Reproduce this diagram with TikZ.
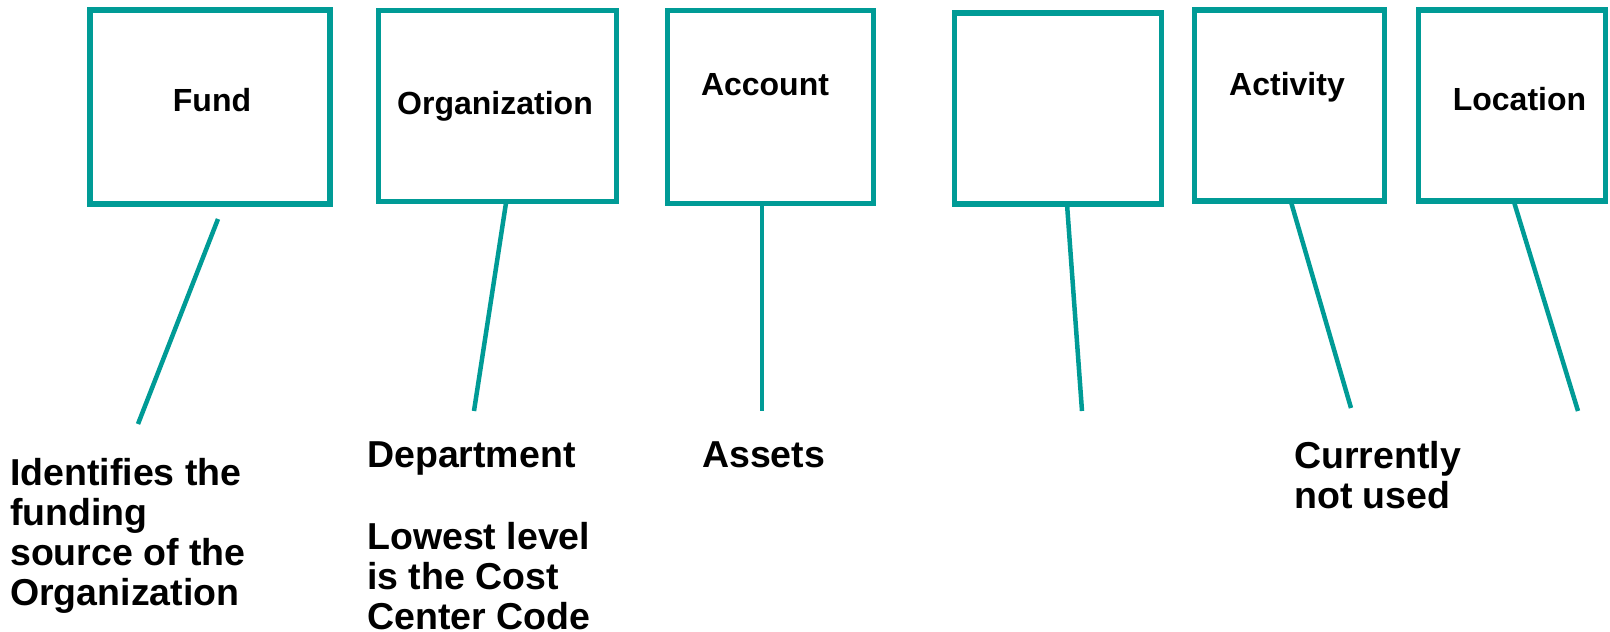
\documentclass[tikz,border=0pt]{standalone}
\usepackage{fontspec}
\setmainfont{Liberation Sans}
\definecolor{segteal}{RGB}{0,155,150}
\begin{document}
\begin{tikzpicture}[x=1pt, y=-1pt,
		segbox/.style={draw=segteal, line width=5.5pt, inner sep=0pt},
		stick/.style={draw=segteal, line width=4.5pt},
		boxlbl/.style={anchor=base, inner sep=0pt, font=\bfseries\fontsize{32}{36}\selectfont},
		note/.style={anchor=north west, align=left, inner sep=0pt, font=\bfseries\fontsize{37.5}{40}\selectfont}]
			\useasboundingbox (0, 0) rectangle (1610, 632);
			
			\node[segbox, minimum width=240, minimum height=194] (fund) at (210, 107) {};
			\node[segbox, minimum width=238, minimum height=191] (org) at (497.5, 106) {};
			\node[segbox, minimum width=206, minimum height=193] (acct) at (770.5, 107) {};
			\node[segbox, minimum width=207, minimum height=191] (blank) at (1058, 108.5) {};
			\node[segbox, minimum width=190, minimum height=191] (actv) at (1289.5, 105.7) {};
			\node[segbox, minimum width=187, minimum height=191] (loc) at (1512, 105.7) {};
			
			\node[boxlbl] (fundlbl) at (212, 111.7) {Fund};
			\node[boxlbl] (orglbl) at (495, 114.5) {Organization};
			\node[boxlbl] (acctlbl) at (765, 95.5) {Account};
			\node[boxlbl] (actvlbl) at (1287, 95) {Activity};
			\node[boxlbl] (loclbl) at (1519.5, 110.7) {Location};
			
			\coordinate (fundA) at (218, 219);
			\coordinate (fundB) at (138, 424);
			\coordinate (orgA) at (506, 203);
			\coordinate (orgB) at (474, 411);
			\coordinate (acctA) at (762, 204);
			\coordinate (acctB) at (762, 411);
			\coordinate (blankA) at (1067, 204);
			\coordinate (blankB) at (1082, 411);
			\coordinate (actvA) at (1291, 202);
			\coordinate (actvB) at (1351, 408);
			\coordinate (locA) at (1514, 202);
			\coordinate (locB) at (1578, 411);
			
			\draw[stick] (fundA) -- (fundB);
			\draw[stick] (orgA) -- (orgB);
			\draw[stick] (acctA) -- (acctB);
			\draw[stick] (blankA) -- (blankB);
			\draw[stick] (actvA) -- (actvB);
			\draw[stick] (locA) -- (locB);
			
			\node[note] (fundnote) at (10, 458) {Identifies the\\funding\\source of the\\Organization};
			\node[note] (orgnote) at (367, 441) {Department\\[42pt]Lowest level\\is the Cost\\Center Code};
			\node[note] (acctnote) at (702, 441) {Assets};
			\node[note] (actvnote) at (1294, 441) {Currently\\not used};
		\end{tikzpicture}
\end{document}
